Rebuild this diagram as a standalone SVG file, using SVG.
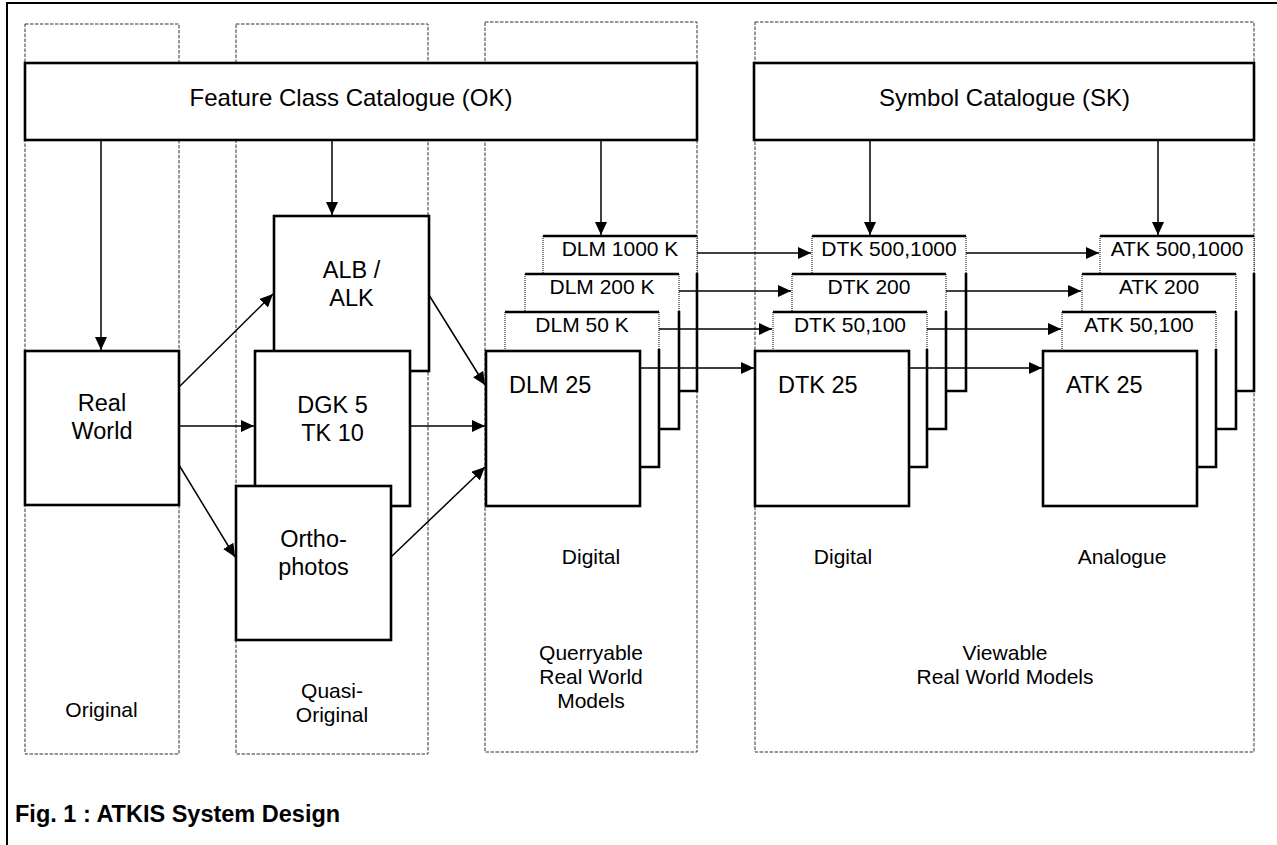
<svg xmlns="http://www.w3.org/2000/svg" width="1277" height="845" viewBox="0 0 1277 845">
<style>
  .frame{fill:none;stroke:#000;stroke-width:2}
  .col{fill:none;stroke:#333;stroke-width:1;stroke-dasharray:3.5 1.5}
  .box{fill:#fff;stroke:#000;stroke-width:2.6}
  .fill{fill:#fff;stroke:none}
  .thick{stroke:#000;stroke-width:2.6;fill:none}
  .dot{stroke:#000;stroke-width:1;stroke-dasharray:1 1;fill:none}
  .conn{stroke:#000;stroke-width:1.5;fill:none;marker-end:url(#ah)}
  text{font-family:"Liberation Sans",Arial,sans-serif;fill:#000}
  .big{font-size:23.5px;text-anchor:middle}
  .bigl{font-size:23.5px}
  .cat{font-size:24px;text-anchor:middle}
  .lab{font-size:21px;text-anchor:middle}
  .cap{font-size:23.5px;font-weight:bold}
</style>
<defs>
  <marker id="ah" markerUnits="userSpaceOnUse" markerWidth="13" markerHeight="12" refX="13" refY="6" orient="auto">
    <path d="M0,0 L13,6 L0,12 z" fill="#000"/>
  </marker>
</defs>
<rect width="1277" height="845" fill="#fff"/>
<path class="frame" d="M7,845 L7,3 L1277,3"/>

<g id="columns">
  <rect class="col" x="25" y="24" width="154" height="730"/>
  <rect class="col" x="236" y="24" width="192" height="730"/>
  <rect class="col" x="485" y="22" width="212" height="730"/>
  <rect class="col" x="755" y="22" width="499" height="730"/>
</g>

<g id="col-labels">
  <text class="lab" x="101.5" y="717">Original</text>
  <text class="lab" x="332" y="698">Quasi-</text>
  <text class="lab" x="332" y="722">Original</text>
  <text class="lab" x="591" y="564">Digital</text>
  <text class="lab" x="591" y="660">Querryable</text>
  <text class="lab" x="591" y="684">Real World</text>
  <text class="lab" x="591" y="708">Models</text>
  <text class="lab" x="843" y="564">Digital</text>
  <text class="lab" x="1122" y="564">Analogue</text>
  <text class="lab" x="1005" y="660">Viewable</text>
  <text class="lab" x="1005" y="684">Real World Models</text>
</g>

<g id="fcc">
  <rect class="box" x="25" y="63" width="672" height="77"/>
  <text class="cat" x="351" y="106">Feature Class Catalogue (OK)</text>
</g>
<g id="sk">
  <rect class="box" x="754" y="63" width="500" height="77"/>
  <text class="cat" x="1004.5" y="106">Symbol Catalogue (SK)</text>
</g>

<g id="realworld">
  <rect class="box" x="25" y="351" width="154" height="154"/>
  <text class="big" x="102" y="411">Real</text>
  <text class="big" x="102" y="439">World</text>
</g>

<g id="alb">
  <rect class="box" x="274" y="216" width="155" height="155"/>
  <text class="big" x="351.5" y="278">ALB /</text>
  <text class="big" x="351.5" y="306">ALK</text>
</g>
<g id="dgk">
  <rect class="box" x="255" y="351" width="155" height="155"/>
  <text class="big" x="332.5" y="413">DGK 5</text>
  <text class="big" x="332.5" y="441">TK 10</text>
</g>
<g id="ortho">
  <rect class="box" x="236" y="486" width="155" height="154"/>
  <text class="big" x="313.5" y="547">Ortho-</text>
  <text class="big" x="313.5" y="575">photos</text>
</g>

<!-- DLM stack -->
<g id="dlm1000">
  <rect class="fill" x="543" y="236" width="154" height="155"/>
  <path class="thick" d="M543,236 H697 M697,273 V391 H543"/>
  <path class="dot" d="M543,236 V273 M697,236 V273"/>
  <text class="lab" x="620" y="256">DLM 1000 K</text>
</g>
<g id="dlm200">
  <rect class="fill" x="525" y="274" width="154" height="155"/>
  <path class="thick" d="M525,274 H679 M679,311 V429 H525"/>
  <path class="dot" d="M525,274 V311 M679,274 V311"/>
  <text class="lab" x="602" y="294">DLM 200 K</text>
</g>
<g id="dlm50">
  <rect class="fill" x="505" y="312" width="154" height="155"/>
  <path class="thick" d="M505,312 H659 M659,349 V467 H505"/>
  <path class="dot" d="M505,312 V349 M659,312 V349"/>
  <text class="lab" x="582" y="332">DLM 50 K</text>
</g>
<g id="dlm25">
  <rect class="box" x="486" y="351" width="154" height="155"/>
  <text class="bigl" x="509" y="393">DLM 25</text>
</g>

<!-- DTK stack -->
<g id="dtk500">
  <rect class="fill" x="812" y="236" width="154" height="155"/>
  <path class="thick" d="M812,236 H966 M966,273 V391 H812"/>
  <path class="dot" d="M812,236 V273 M966,236 V273"/>
  <text class="lab" x="889" y="256">DTK 500,1000</text>
</g>
<g id="dtk200">
  <rect class="fill" x="792" y="274" width="154" height="155"/>
  <path class="thick" d="M792,274 H946 M946,311 V429 H792"/>
  <path class="dot" d="M792,274 V311 M946,274 V311"/>
  <text class="lab" x="869" y="294">DTK 200</text>
</g>
<g id="dtk50">
  <rect class="fill" x="773" y="312" width="154" height="155"/>
  <path class="thick" d="M773,312 H927 M927,349 V467 H773"/>
  <path class="dot" d="M773,312 V349 M927,312 V349"/>
  <text class="lab" x="850" y="332">DTK 50,100</text>
</g>
<g id="dtk25">
  <rect class="box" x="755" y="351" width="154" height="155"/>
  <text class="bigl" x="778" y="393">DTK 25</text>
</g>

<!-- ATK stack -->
<g id="atk500">
  <rect class="fill" x="1100" y="236" width="154" height="155"/>
  <path class="thick" d="M1100,236 H1254 M1254,273 V391 H1100"/>
  <path class="dot" d="M1100,236 V273 M1254,236 V273"/>
  <text class="lab" x="1177" y="256">ATK 500,1000</text>
</g>
<g id="atk200">
  <rect class="fill" x="1082" y="274" width="154" height="155"/>
  <path class="thick" d="M1082,274 H1236 M1236,311 V429 H1082"/>
  <path class="dot" d="M1082,274 V311 M1236,274 V311"/>
  <text class="lab" x="1159" y="294">ATK 200</text>
</g>
<g id="atk50">
  <rect class="fill" x="1062" y="312" width="154" height="155"/>
  <path class="thick" d="M1062,312 H1216 M1216,349 V467 H1062"/>
  <path class="dot" d="M1062,312 V349 M1216,312 V349"/>
  <text class="lab" x="1139" y="332">ATK 50,100</text>
</g>
<g id="atk25">
  <rect class="box" x="1043" y="351" width="154" height="155"/>
  <text class="bigl" x="1066" y="393">ATK 25</text>
</g>

<g id="connectors">
  <line class="conn" x1="101" y1="141" x2="101" y2="350"/>
  <line class="conn" x1="332" y1="141" x2="332" y2="215"/>
  <line class="conn" x1="601" y1="141" x2="601" y2="235"/>
  <line class="conn" x1="870" y1="141" x2="870" y2="235"/>
  <line class="conn" x1="1158" y1="141" x2="1158" y2="235"/>

  <line class="conn" x1="179" y1="387" x2="273" y2="294"/>
  <line class="conn" x1="179" y1="426" x2="254" y2="426"/>
  <line class="conn" x1="179" y1="465" x2="235" y2="557"/>
  <line class="conn" x1="429" y1="295" x2="485" y2="385"/>
  <line class="conn" x1="410" y1="426" x2="485" y2="426"/>
  <line class="conn" x1="391" y1="557" x2="485" y2="467"/>

  <line class="conn" x1="697" y1="253" x2="811" y2="253"/>
  <line class="conn" x1="679" y1="291" x2="791" y2="291"/>
  <line class="conn" x1="659" y1="329" x2="772" y2="329"/>
  <line class="conn" x1="640" y1="368" x2="754" y2="368"/>

  <line class="conn" x1="966" y1="253" x2="1099" y2="253"/>
  <line class="conn" x1="946" y1="291" x2="1081" y2="291"/>
  <line class="conn" x1="927" y1="329" x2="1061" y2="329"/>
  <line class="conn" x1="909" y1="368" x2="1042" y2="368"/>
</g>

<text class="cap" x="15" y="822">Fig. 1 : ATKIS System Design</text>
</svg>
